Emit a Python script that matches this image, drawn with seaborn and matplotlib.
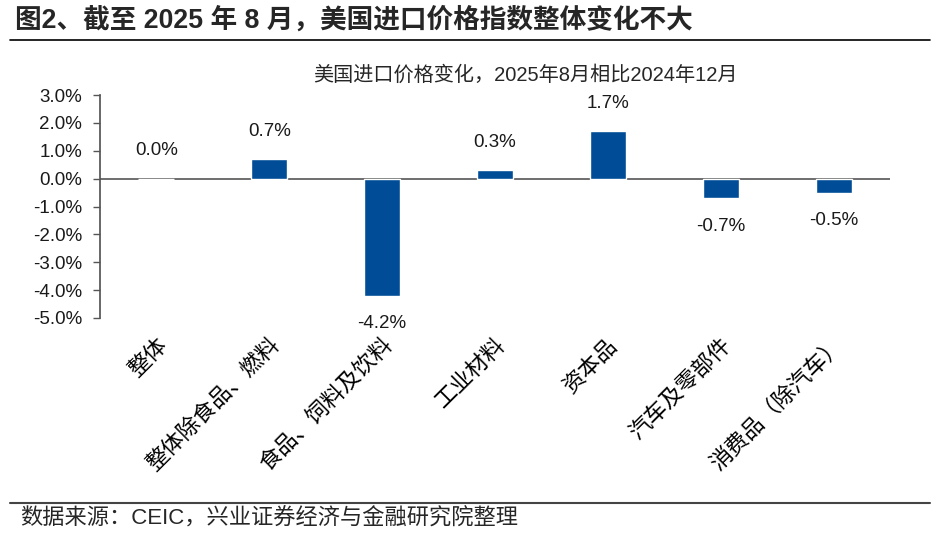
import numpy as np
import pandas as pd
import matplotlib
matplotlib.use('Agg')
import matplotlib.pyplot as plt
import seaborn as sns

# data
categories = ['整体', '整体除食品、燃料', '食品、饲料及饮料', '工业材料',
              '资本品', '汽车及零部件', '消费品（除汽车）']
changes = [0.0, 0.7, -4.2, 0.3, 1.7, -0.7, -0.5]
yticks = [3, 2, 1, 0, -1, -2, -3, -4, -5]

title = '图2、截至 2025 年 8 月，美国进口价格指数整体变化不大'
subtitle = '美国进口价格变化，2025年8月相比2024年12月'
source = '数据来源：CEIC，兴业证券经济与金融研究院整理'

sns.set_theme(style='white')
plt.rcParams['font.family'] = ['Liberation Sans', 'Noto Sans CJK SC', 'DejaVu Sans']
plt.rcParams['axes.unicode_minus'] = False

df = pd.DataFrame({'cat': categories, 'val': changes})

fig = plt.figure(figsize=(9.48, 5.34), dpi=100)
ax = fig.add_axes([100 / 948, 1 - 318 / 534, 790 / 948, 223 / 534])

sns.barplot(data=df, x='cat', y='val', color='#004C97', width=0.32,
            saturation=1, ax=ax)

ax.set_ylim(-5, 3)
ax.set_xlim(-0.5, len(categories) - 0.5)
ax.set_yticks(yticks)
ax.set_yticklabels([f'{t:.1f}%' for t in yticks], fontsize=13.5, color='#1a1a1a')
ax.set_xlabel('')
ax.set_ylabel('')

ax.set_xticks(range(len(categories)))
ax.set_xticklabels(categories, rotation=45, ha='right', rotation_mode='anchor',
                   fontsize=16, color='black')
ax.tick_params(axis='x', length=0, pad=12)
ax.tick_params(axis='y', direction='out', length=5, width=1, color='#555555',
               left=True, pad=8)

for s in ['top', 'right', 'bottom']:
    ax.spines[s].set_visible(False)
ax.spines['left'].set_color('#555555')
ax.axhline(0, color='#555555', lw=1.2, zorder=0)

# negative labels sit a little further from the bar end
ax.bar_label(ax.containers[0], labels=[f'{v:.1f}%' for v in changes],
             padding=14, fontsize=13.5, color='#1a1a1a')

fig.text(525 / 948, 1 - 75 / 534, subtitle, ha='center', va='center',
         fontsize=14.5)
fig.text(15 / 948, 1 - 20 / 534, title, ha='left', va='center',
         fontsize=19.2, fontweight='bold')
fig.add_artist(plt.Line2D([10 / 948, 930 / 948], [1 - 40 / 534] * 2,
                          color='black', lw=1.2))
fig.add_artist(plt.Line2D([10 / 948, 930 / 948], [1 - 503 / 534] * 2,
                          color='#444444', lw=1.5))
fig.text(20 / 948, 1 - 519 / 534, source, ha='left', va='center', fontsize=16)

fig.savefig('out.png', dpi=100)
